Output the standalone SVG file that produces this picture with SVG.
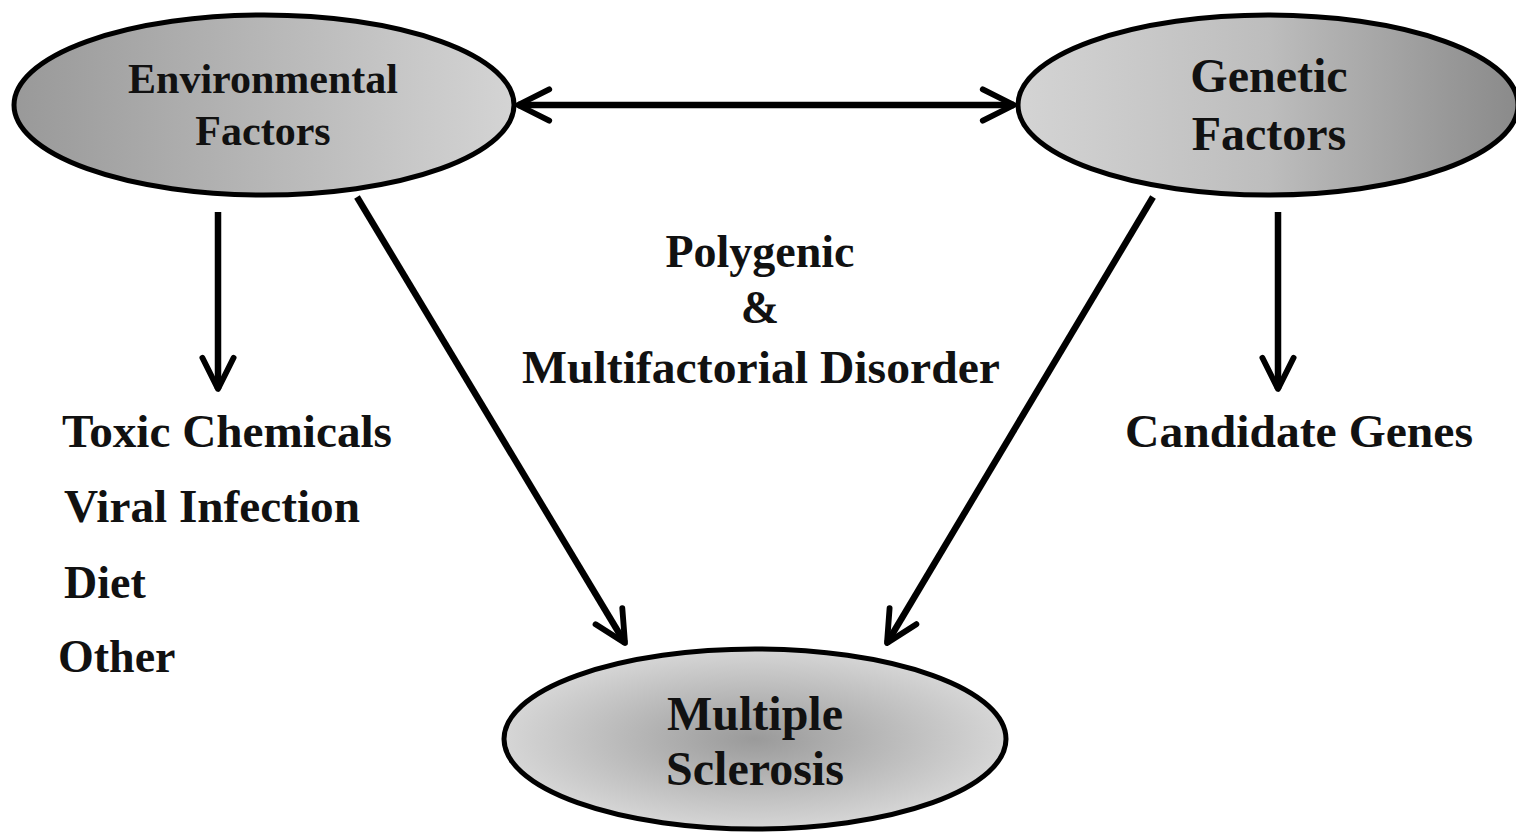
<svg xmlns="http://www.w3.org/2000/svg" width="1516" height="833" viewBox="0 0 1516 833">
<style>
  .node ellipse { stroke: #000; stroke-width: 5; }
  .t { font-family: "Liberation Serif", "Times New Roman", serif; font-weight: bold; fill: #111; }
  .c { text-anchor: middle; }
  .conn line { stroke: #000; stroke-width: 6.5; fill: none; }
</style>
<defs>
  <linearGradient id="gEnv" x1="0" y1="0" x2="1" y2="0">
    <stop offset="0" stop-color="#999999"/>
    <stop offset="1" stop-color="#d4d4d4"/>
  </linearGradient>
  <linearGradient id="gGen" x1="0" y1="0" x2="1" y2="0">
    <stop offset="0" stop-color="#d4d4d4"/>
    <stop offset="0.5" stop-color="#bdbdbd"/>
    <stop offset="1" stop-color="#8a8a8a"/>
  </linearGradient>
  <radialGradient id="gMS" cx="0.5" cy="0.5" r="0.5">
    <stop offset="0" stop-color="#9a9a9a"/>
    <stop offset="1" stop-color="#d6d6d6"/>
  </radialGradient>
  <marker id="ah" viewBox="0 0 20 20" refX="18" refY="10" markerWidth="6" markerHeight="6" markerUnits="strokeWidth" orient="auto-start-reverse">
    <path d="M2,2 L18,10 L2,18" fill="none" stroke="#000" stroke-width="3" stroke-linecap="round" stroke-linejoin="round"/>
  </marker>
</defs>
<rect width="1516" height="833" fill="#fff"/>

<g id="env" class="node">
  <ellipse cx="264" cy="105" rx="250" ry="90" fill="url(#gEnv)"/>
  <text class="t c" x="263" y="93" font-size="42">Environmental</text>
  <text class="t c" x="263" y="145" font-size="42">Factors</text>
</g>
<g id="gen" class="node">
  <ellipse cx="1268" cy="105" rx="250" ry="90" fill="url(#gGen)"/>
  <text class="t c" x="1269" y="92" font-size="48">Genetic</text>
  <text class="t c" x="1269" y="150" font-size="48">Factors</text>
</g>
<g id="ms" class="node">
  <ellipse cx="755" cy="739" rx="251" ry="90" fill="url(#gMS)"/>
  <text class="t c" x="755" y="730" font-size="48">Multiple</text>
  <text class="t c" x="755" y="785" font-size="48">Sclerosis</text>
</g>

<g id="center-label">
  <text class="t c" x="760" y="267" font-size="46">Polygenic</text>
  <text class="t c" x="760" y="323" font-size="46">&amp;</text>
  <text class="t c" x="761" y="383" font-size="46" textLength="478" lengthAdjust="spacingAndGlyphs">Multifactorial Disorder</text>
</g>

<g id="env-list">
  <text class="t" x="62" y="447" font-size="46" textLength="330" lengthAdjust="spacingAndGlyphs">Toxic Chemicals</text>
  <text class="t" x="64" y="522" font-size="46" textLength="296" lengthAdjust="spacingAndGlyphs">Viral Infection</text>
  <text class="t" x="64" y="598" font-size="46">Diet</text>
  <text class="t" x="58" y="672" font-size="46">Other</text>
</g>
<g id="gen-list">
  <text class="t" x="1125" y="447" font-size="46" textLength="348" lengthAdjust="spacingAndGlyphs">Candidate Genes</text>
</g>

<g id="connectors" class="conn">
  <line x1="518" y1="105" x2="1014" y2="105" marker-start="url(#ah)" marker-end="url(#ah)"/>
  <line x1="218" y1="212" x2="218" y2="389" marker-end="url(#ah)"/>
  <line x1="1278" y1="212" x2="1278" y2="389" marker-end="url(#ah)"/>
  <line x1="357" y1="197" x2="625" y2="643" marker-end="url(#ah)"/>
  <line x1="1153" y1="197" x2="887" y2="643" marker-end="url(#ah)"/>
</g>
</svg>
